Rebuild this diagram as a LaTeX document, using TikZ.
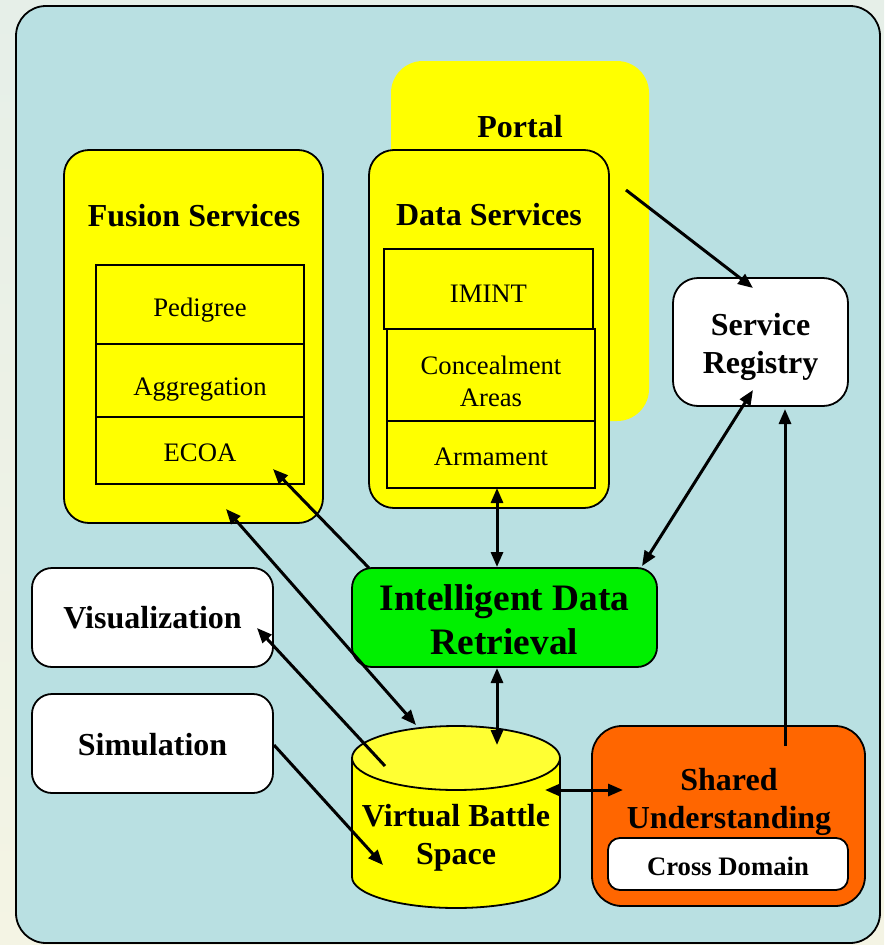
\documentclass[tikz,border=0pt]{standalone}
\usepackage{fontspec}
\setmainfont{Liberation Serif}
\usetikzlibrary{arrows.meta,calc}
\definecolor{bgtop}{HTML}{E6EFE8}
\definecolor{bgbot}{HTML}{F4F4E4}
\definecolor{panelblue}{HTML}{B9E0E2}
\definecolor{yel}{HTML}{FFFF00}
\definecolor{yeltop}{HTML}{FFFF33}
\definecolor{grn}{HTML}{00F000}
\definecolor{org}{HTML}{FF6600}
\newcommand{\mybold}{\fontsize{32}{38}\selectfont\bfseries}
\newcommand{\myreg}{\fontsize{26.67}{32}\selectfont}
\newcommand{\mybig}{\fontsize{37.33}{44}\selectfont\bfseries}
\newcommand{\mycd}{\fontsize{26.67}{32}\selectfont\bfseries}
\newcommand{\lift}[1]{\rule{0pt}{#1}}
\begin{document}
\begin{tikzpicture}[x=1pt,y=-1pt,
  box/.style={draw=black, line width=1.8pt, rectangle, inner sep=0pt, outer sep=0pt, align=center},
  rbox/.style={box, rounded corners=#1},
  rbox/.default=22pt,
  sub/.style={box, fill=yel, font=\myreg},
  drop/.style={execute at begin node={\rule{0pt}{#1}}},
  title/.style={font=\mybold, align=center, inner sep=0pt},
  arr/.style={line width=3pt, -{Triangle[length=15pt,width=12pt]}},
  dbl/.style={line width=3pt, {Triangle[length=15pt,width=12pt]}-{Triangle[length=15pt,width=12pt]}}
]
\shade[top color=bgtop, bottom color=bgbot] (0,0) rectangle (884,945);
\useasboundingbox (0,0) rectangle (884,945);
% panel
\node[rbox=30pt, fill=panelblue, minimum width=864pt, minimum height=937pt] (panel) at (448,474.5) {};
% portal
\node[rectangle, fill=yel, rounded corners=32pt, inner sep=0pt, minimum width=258pt, minimum height=360pt] (portal) at (520,241) {};
\node[title] (portaltitle) at (520,127) {Portal};
% data services
\node[rbox=25pt, fill=yel, minimum width=240pt, minimum height=358pt] (ds) at (489,329) {};
\node[title] (dstitle) at (489,215) {Data Services};
\node[sub, drop=26pt, minimum width=209pt, minimum height=80pt] (imint) at (488.5,289) {IMINT};
\node[sub, minimum width=208pt, minimum height=92pt] (conc) at (491,375) {\lift{31pt}Concealment\\Areas};
\node[sub, drop=22pt, minimum width=208pt, minimum height=67pt] (arm) at (491,454.5) {Armament};
% fusion services
\node[rbox=25pt, fill=yel, minimum width=259pt, minimum height=373pt] (fusion) at (193.5,336.5) {};
\node[title] (fusiontitle) at (194,216) {Fusion Services};
\node[sub, drop=30pt, minimum width=208pt, minimum height=79pt] (ped) at (200,304.5) {Pedigree};
\node[sub, drop=35pt, minimum width=208pt, minimum height=73pt] (agg) at (200,380.5) {Aggregation};
\node[sub, drop=22.5pt, minimum width=208pt, minimum height=67pt] (ecoa) at (200,450.5) {ECOA};
% registry
\node[rbox=25pt, fill=white, minimum width=175pt, minimum height=128pt, font=\mybold] (reg) at (760.5,342) {\lift{33pt}Service\\Registry};
% intelligent data retrieval
\node[rbox=20pt, fill=grn, minimum width=305pt, minimum height=99pt, font=\mybig] (idr) at (504.5,617.5) {\lift{30pt}Intelligent Data\\Retrieval};
% visualization, simulation
\node[rbox=20pt, fill=white, minimum width=241pt, minimum height=99pt, font=\mybold] (vis) at (152.5,617.5) {Visualization};
\node[rbox=20pt, fill=white, drop=25pt, minimum width=241pt, minimum height=99pt, font=\mybold] (sim) at (152.5,743.5) {Simulation};
% shared understanding
\node[rbox=30pt, fill=org, minimum width=273pt, minimum height=180pt] (su) at (728.5,816) {};
\node[title] (sutitle) at (729,802) {Shared\\Understanding};
\node[rbox=12pt, fill=white, drop=22.5pt, minimum width=240pt, minimum height=52pt, font=\mycd] (cd) at (728,864) {Cross Domain};
% virtual battle space cylinder
\filldraw[fill=yel, draw=black, line width=1.8pt]
  (352,758) -- (352,877)
  .. controls (352,894.1) and (398.6,908) .. (456,908)
  .. controls (513.4,908) and (560,894.1) .. (560,877)
  -- (560,758) -- cycle;
\filldraw[fill=yeltop, draw=black, line width=1.8pt] (456,758) ellipse [x radius=104pt, y radius=32pt];
\coordinate (vbstop) at (456,726);
\node[title] (vbs) at (456,838) {Virtual Battle\\Space};
% connectors
\coordinate (portalout) at (626,190);
\draw[arr] (portalout) -- ($(reg.north)+(-7.5,10)$);
\draw[dbl] ($(reg.south)+(-7.5,-16)$) -- ($(idr.north east)+(-15,-2)$);
\draw[arr] ($(su.north)+(56.5,20)$) -- ($(reg.south)+(24.5,3)$);
\draw[dbl] ($(arm.south)+(6,0)$) -- ($(idr.north)+(-7.5,-1)$);
\draw[dbl] ($(idr.south)+(-7.5,1)$) -- ($(vbstop)+(41,19)$);
\draw[arr] ($(idr.north west)+(17,0)$) -- ($(ecoa.south east)+(-31,-15)$);
\draw[dbl] ($(fusion.south)+(32.5,-14)$) -- ($(vbstop)+(-40,-1)$);
\draw[arr] ($(vbstop)+(-71,40)$) -- ($(vis.east)+(-16,10.5)$);
\draw[arr] ($(sim.east)+(1,1.5)$) -- ($(vbstop)+(-73,139)$);
\draw[dbl] ($(vbstop)+(89,64)$) -- ($(su.west)+(31,-26)$);
\end{tikzpicture}
\end{document}
